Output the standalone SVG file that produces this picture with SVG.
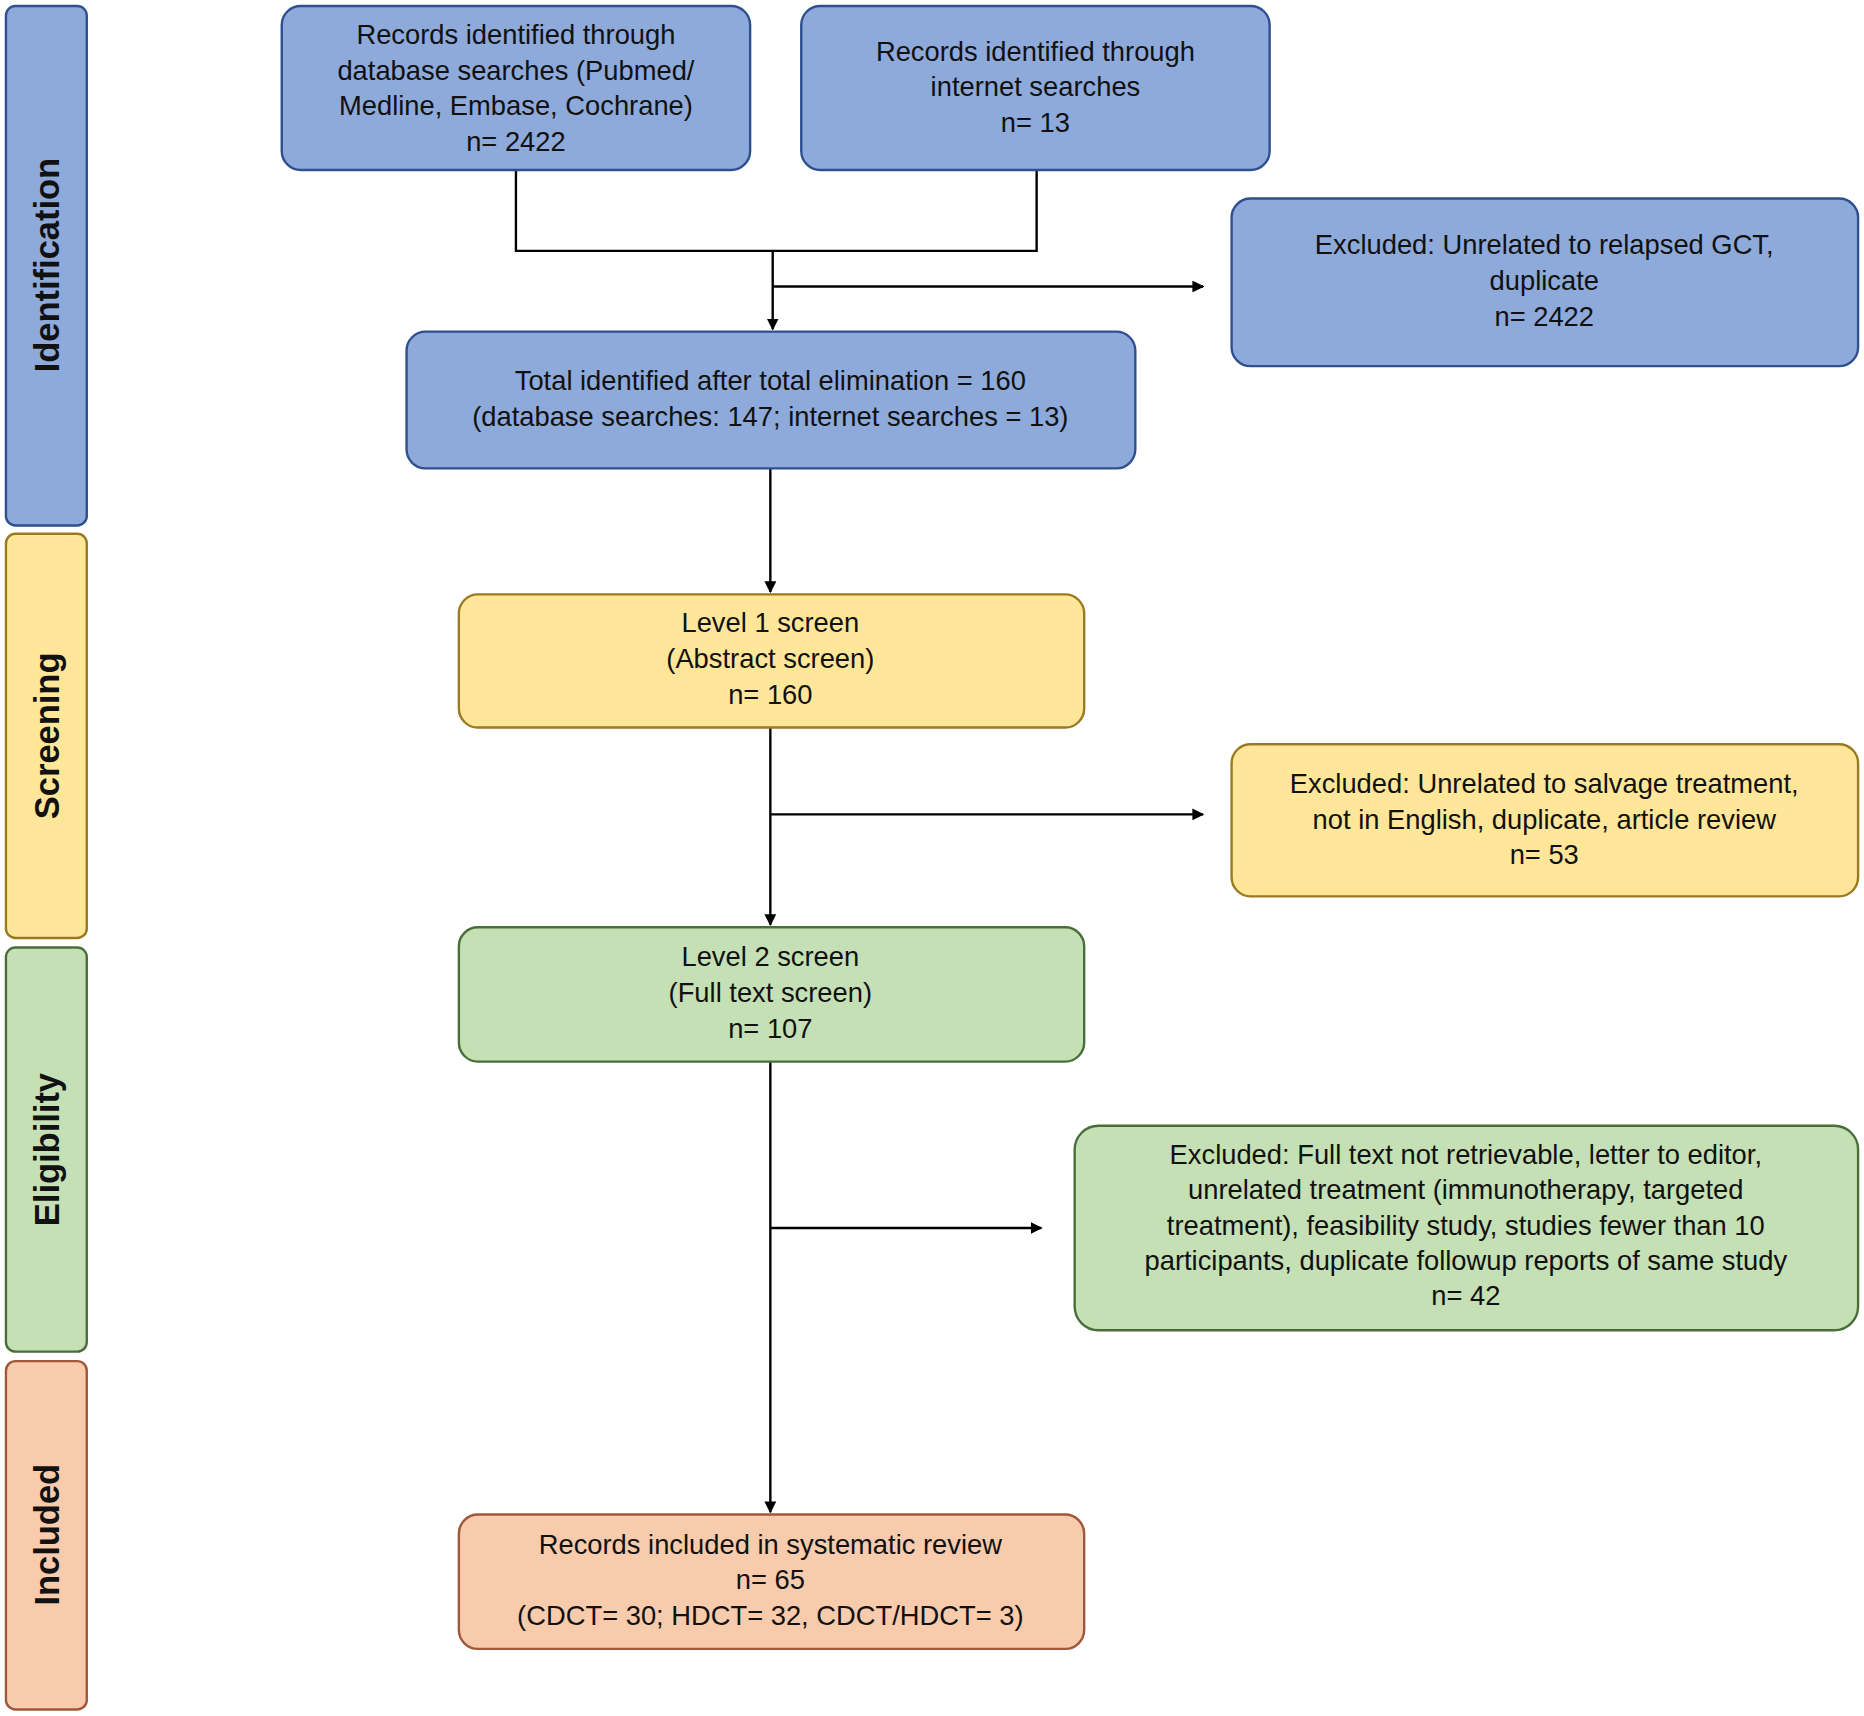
<svg xmlns="http://www.w3.org/2000/svg" width="1864" height="1716" viewBox="0 0 1864 1716">
<style>
text{font-family:"Liberation Sans",Arial,sans-serif;font-size:23px;fill:#111;text-anchor:middle}
.side{font-size:29px;font-weight:bold}
.b{fill:#8eaadb;stroke:#2f4f8f;stroke-width:2}
.y{fill:#ffe699;stroke:#9a7a20;stroke-width:2}
.g{fill:#c5e0b4;stroke:#4a6e3a;stroke-width:2}
.o{fill:#f8cbad;stroke:#a0583a;stroke-width:2}
.c{stroke:#000;stroke-width:2;fill:none}
</style>
<defs><marker id="a" markerWidth="10" markerHeight="10" refX="9" refY="5" orient="auto" markerUnits="userSpaceOnUse" viewBox="0 0 10 10"><path d="M0,0L10,5L0,10z" fill="#000"/></marker></defs>
<rect width="1864" height="1716" fill="#fff"/>
<g transform="scale(1.1888)">
<g id="side-identification"><rect class="b" x="5" y="5" width="68" height="437" rx="8"/><text class="side" transform="translate(50,223) rotate(-90)">Identification</text></g>
<g id="side-screening"><rect class="y" x="5" y="449" width="68" height="340" rx="8"/><text class="side" transform="translate(50,619) rotate(-90)">Screening</text></g>
<g id="side-eligibility"><rect class="g" x="5" y="797" width="68" height="340" rx="8"/><text class="side" transform="translate(50,967) rotate(-90)">Eligibility</text></g>
<g id="side-included"><rect class="o" x="5" y="1145" width="68" height="293" rx="8"/><text class="side" transform="translate(50,1291) rotate(-90)">Included</text></g>
<g id="connectors">
<path class="c" d="M434,143V211H872V143"/>
<path class="c" d="M650,211V277" marker-end="url(#a)"/>
<path class="c" d="M650,241H1012" marker-end="url(#a)"/>
<path class="c" d="M648,394V498" marker-end="url(#a)"/>
<path class="c" d="M648,612V778" marker-end="url(#a)"/>
<path class="c" d="M648,685H1012" marker-end="url(#a)"/>
<path class="c" d="M648,893V1272" marker-end="url(#a)"/>
<path class="c" d="M648,1033H876" marker-end="url(#a)"/>
</g>
<g id="db"><rect class="b" x="237" y="5" width="394" height="138" rx="16"/><text x="434" y="37">Records identified through</text><text x="434" y="67">database searches (Pubmed/</text><text x="434" y="97">Medline, Embase, Cochrane)</text><text x="434" y="127">n= 2422</text></g>
<g id="internet"><rect class="b" x="674" y="5" width="394" height="138" rx="16"/><text x="871" y="51">Records identified through</text><text x="871" y="81">internet searches</text><text x="871" y="111">n= 13</text></g>
<g id="excl1"><rect class="b" x="1036" y="167" width="527" height="141" rx="16"/><text x="1299" y="214">Excluded: Unrelated to relapsed GCT,</text><text x="1299" y="244">duplicate</text><text x="1299" y="274">n= 2422</text></g>
<g id="total"><rect class="b" x="342" y="279" width="613" height="115" rx="16"/><text x="648" y="328">Total identified after total elimination = 160</text><text x="648" y="358">(database searches: 147; internet searches = 13)</text></g>
<g id="level1"><rect class="y" x="386" y="500" width="526" height="112" rx="16"/><text x="648" y="532">Level 1 screen</text><text x="648" y="562">(Abstract screen)</text><text x="648" y="592">n= 160</text></g>
<g id="excl2"><rect class="y" x="1036" y="626" width="527" height="128" rx="16"/><text x="1299" y="667">Excluded: Unrelated to salvage treatment,</text><text x="1299" y="697">not in English, duplicate, article review</text><text x="1299" y="727">n= 53</text></g>
<g id="level2"><rect class="g" x="386" y="780" width="526" height="113" rx="16"/><text x="648" y="813">Level 2 screen</text><text x="648" y="843">(Full text screen)</text><text x="648" y="873">n= 107</text></g>
<g id="excl3"><rect class="g" x="904" y="947" width="659" height="172" rx="20"/><text x="1233" y="979">Excluded: Full text not retrievable, letter to editor,</text><text x="1233" y="1009">unrelated treatment (immunotherapy, targeted</text><text x="1233" y="1039">treatment), feasibility study, studies fewer than 10</text><text x="1233" y="1068">participants, duplicate followup reports of same study</text><text x="1233" y="1098">n= 42</text></g>
<g id="included"><rect class="o" x="386" y="1274" width="526" height="113" rx="16"/><text x="648" y="1307">Records included in systematic review</text><text x="648" y="1337">n= 65</text><text x="648" y="1367">(CDCT= 30; HDCT= 32, CDCT/HDCT= 3)</text></g>
</g>
</svg>
